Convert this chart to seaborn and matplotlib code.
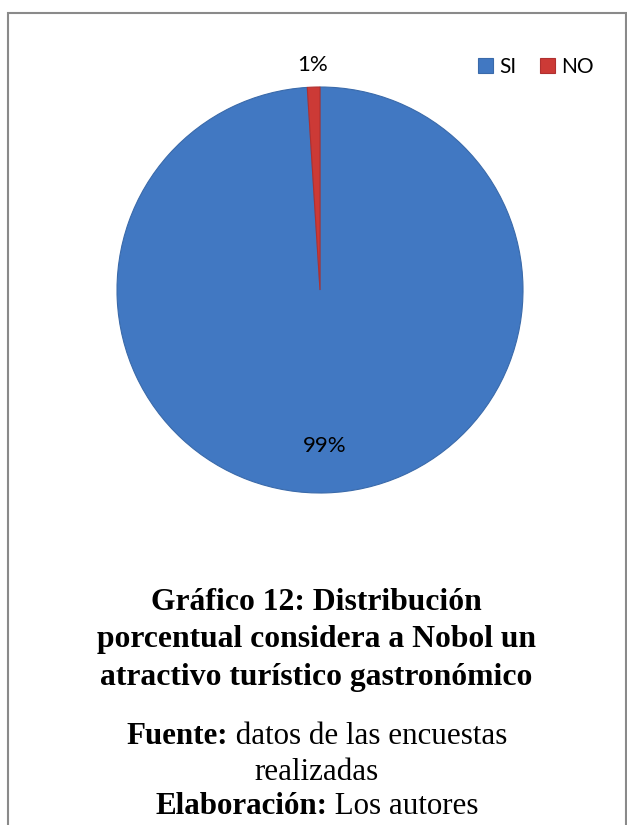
import matplotlib
matplotlib.use("Agg")
import matplotlib.pyplot as plt
import seaborn as sns
import numpy as np
from matplotlib.patches import Rectangle

sns.set_theme(style="white")
plt.rcParams['font.family'] = ['Lato', 'DejaVu Sans']
plt.rcParams['text.color'] = 'black'

categories = ["SI", "NO"]
values = [99, 1]
pct_labels = ["99%", "1%"]
colors = ["#4178c2", "#cc3a36"]
title_lines = ["Gráfico 12: Distribución", "porcentual considera a Nobol un", "atractivo turístico gastronómico"]
footer = [("Fuente:", " datos de las encuestas"), ("", "realizadas"), ("Elaboración:", " Los autores")]

W, H = 627, 825
fig = plt.figure(figsize=(W / 100, H / 100), dpi=100)
fig.patch.set_facecolor("white")

cx, cy, r = 320, 290, 203
ax = fig.add_axes([(cx - r) / W, (H - cy - r) / H, 2 * r / W, 2 * r / H])
wedges, _ = ax.pie(values, colors=colors, startangle=90, counterclock=False,
                   wedgeprops=dict(edgecolor="#3a6aaa", linewidth=0.8))
wedges[1].set_edgecolor("#b03030")
ax.set_xlim(-1, 1)
ax.set_ylim(-1, 1)
ax.set_aspect("equal")
ax.axis("off")

dists = [0.77, 1.11]
for w, lab, d in zip(wedges, pct_labels, dists):
    ang = np.deg2rad((w.theta1 + w.theta2) / 2)
    ax.text(d * np.cos(ang), d * np.sin(ang), lab, ha="center", va="center",
            fontsize=16, color="black", clip_on=False)

leg = fig.legend(wedges, categories, loc="center right", bbox_to_anchor=(594 / W, 1 - 67 / H),
                 ncol=2, frameon=False, fontsize=15, handlelength=0.75, handleheight=0.75,
                 handletextpad=0.3, columnspacing=1.1, borderpad=0, borderaxespad=0)

# border
fig.add_artist(Rectangle((8 / W, -0.1), (625.5 - 8) / W, 1.1 - 13 / H, transform=fig.transFigure,
                         fill=False, edgecolor="#8a8a8a", linewidth=1.5))

serif = ["Liberation Serif", "DejaVu Serif"]
for i, line in enumerate(title_lines):
    fig.text(0.5 + 3 / W, 1 - (603 + 37 * i) / H, line, ha="center", va="center",
             fontsize=22.8, fontweight="bold", family=serif, color="black")

fig.canvas.draw()
renderer = fig.canvas.get_renderer()
ys = [737, 772, 806]
for (b, n), y in zip(footer, ys):
    yf = 1 - y / H
    tb = fig.text(0, yf, b, ha="left", va="center", fontsize=22.3, fontweight="bold",
                  family=serif, color="black")
    tn = fig.text(0, yf, n, ha="left", va="center", fontsize=22.3, family=serif, color="black")
    wb = tb.get_window_extent(renderer).width if b else 0
    wn = tn.get_window_extent(renderer).width
    total = wb + wn
    x0 = 317 - total / 2
    tb.set_x(x0 / W)
    tn.set_x((x0 + wb) / W)

fig.savefig("out.png", dpi=100, facecolor="white")
